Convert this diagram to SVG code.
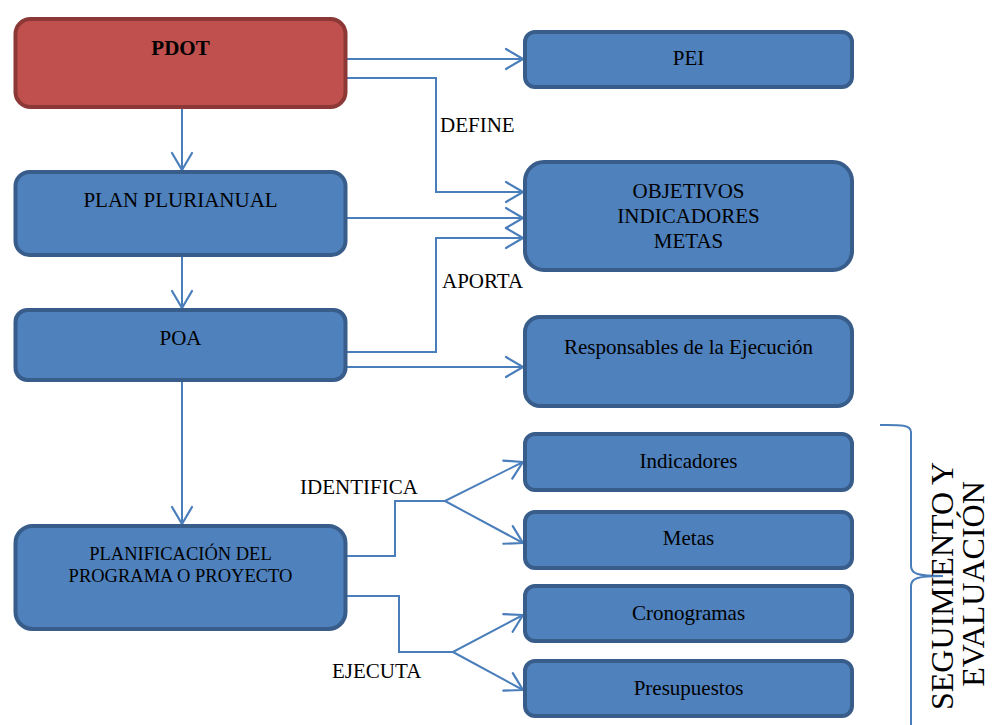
<svg xmlns="http://www.w3.org/2000/svg" width="992" height="725" viewBox="0 0 992 725">
<style>
.box{fill:#4F81BD;stroke:#385D8A;stroke-width:4}
.red{fill:#C0504D;stroke:#8C3836;stroke-width:4}
text{font-family:"Liberation Serif","Times New Roman",serif;font-size:21px;fill:#000}
.c{text-anchor:middle}
.sm{font-size:18.5px}
.conn path{fill:none;stroke:#4A7EBB;stroke-width:2}
.big{font-size:32px}
</style>
<defs>
<marker id="ar" markerUnits="userSpaceOnUse" markerWidth="30" markerHeight="30" viewBox="-20 -15 25 30" refX="0" refY="0" orient="auto">
<path d="M-17,-10 L0,0 L-17,10" fill="none" stroke="#4A7EBB" stroke-width="2.2" stroke-linejoin="round" stroke-linecap="round"/>
</marker>
</defs>
<rect width="992" height="725" fill="#fff"/>
<g class="conn">
<path d="M347 59 H523" marker-end="url(#ar)"/>
<path d="M347 78 H436 V192 H523" marker-end="url(#ar)"/>
<path d="M347 218 H523" marker-end="url(#ar)"/>
<path d="M347 352 H436 V238 H523" marker-end="url(#ar)"/>
<path d="M347 367 H523" marker-end="url(#ar)"/>
<path d="M182 108 V170" marker-end="url(#ar)"/>
<path d="M182 257 V308" marker-end="url(#ar)"/>
<path d="M182 382 V524" marker-end="url(#ar)"/>
<path d="M347 556 H395 V501 H445 L523 462" marker-end="url(#ar)"/>
<path d="M445 501 L523 543" marker-end="url(#ar)"/>
<path d="M347 596 H399 V652 H453 L523 615" marker-end="url(#ar)"/>
<path d="M453 652 L523 690" marker-end="url(#ar)"/>
<path d="M880 425 C897 425 911 424 911 432 V566 C911 574 918 576 943 576 C918 576 911 578 911 586 V730"/>
</g>
<g id="pdot"><rect class="red" x="15.5" y="19" width="330" height="88" rx="15"/><text class="c" x="180.5" y="55" font-weight="bold">PDOT</text></g>
<g id="plan"><rect class="box" x="15.5" y="172" width="330" height="83" rx="14"/><text class="c" x="180.5" y="207">PLAN PLURIANUAL</text></g>
<g id="poa"><rect class="box" x="15.5" y="310" width="330" height="70" rx="12"/><text class="c" x="180.5" y="345">POA</text></g>
<g id="planif"><rect class="box" x="15.5" y="526" width="330" height="103" rx="17"/><text class="c sm" x="180.5" y="560">PLANIFICACIÓN DEL</text><text class="c sm" x="180.5" y="582">PROGRAMA O PROYECTO</text></g>
<g id="pei"><rect class="box" x="525" y="32" width="327" height="55" rx="10"/><text class="c" x="688.5" y="65">PEI</text></g>
<g id="obj"><rect class="box" x="525" y="162" width="327" height="108" rx="19"/><text class="c" x="688.5" y="198">OBJETIVOS</text><text class="c" x="688.5" y="223">INDICADORES</text><text class="c" x="688.5" y="248">METAS</text></g>
<g id="resp"><rect class="box" x="525" y="317" width="327" height="89" rx="15"/><text class="c" x="688.5" y="354">Responsables de la Ejecución</text></g>
<g id="ind"><rect class="box" x="525" y="434" width="327" height="56" rx="10"/><text class="c" x="688.5" y="468">Indicadores</text></g>
<g id="metas"><rect class="box" x="525" y="512" width="327" height="56" rx="10"/><text class="c" x="688.5" y="545">Metas</text></g>
<g id="crono"><rect class="box" x="525" y="586" width="327" height="55" rx="10"/><text class="c" x="688.5" y="620">Cronogramas</text></g>
<g id="presup"><rect class="box" x="525" y="661" width="327" height="55" rx="10"/><text class="c" x="688.5" y="695">Presupuestos</text></g>
<g id="labels">
<text x="440" y="132">DEFINE</text>
<text x="442" y="288">APORTA</text>
<text x="300" y="494">IDENTIFICA</text>
<text x="332" y="678">EJECUTA</text>
</g>
<g id="seg">
<text class="c big" transform="translate(953 586) rotate(-90)">SEGUIMIENTO Y</text>
<text class="c big" transform="translate(984 584) rotate(-90)">EVALUACIÓN</text>
</g>
</svg>
